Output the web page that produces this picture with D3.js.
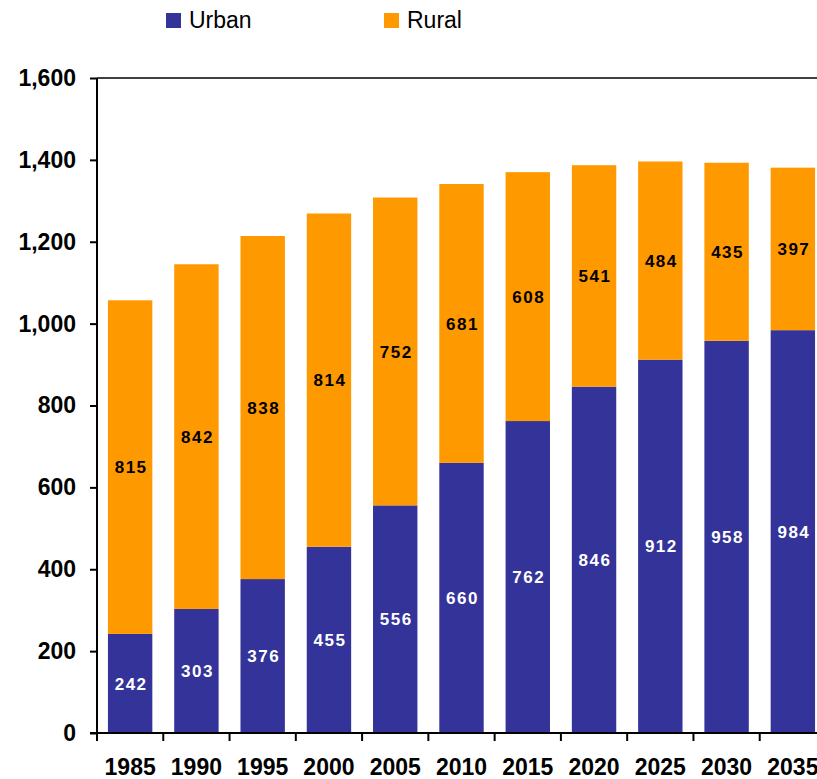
<!DOCTYPE html>
<html>
<head>
<meta charset="utf-8">
<script src="https://cdn.jsdelivr.net/npm/d3@7"></script>
<style>
  body { margin: 0; background: #fff; }
  svg { display: block; font-family: "Liberation Sans", Arial, sans-serif; }
</style>
</head>
<body>
<div id="chart"></div>
<script>
// Data
const years = ['1985', '1990', '1995', '2000', '2005', '2010', '2015', '2020', '2025', '2030', '2035'];
const urban = [242, 303, 376, 455, 556, 660, 762, 846, 912, 958, 984];
const rural = [815, 842, 838, 814, 752, 681, 608, 541, 484, 435, 397];
const yTicks = [0, 200, 400, 600, 800, 1000, 1200, 1400, 1600];

const width = 817, height = 779;
const plotLeft = 97, plotRight = 826, plotTop = 78, plotBottom = 733;

const svg = d3.select('#chart').append('svg')
    .attr('width', width)
    .attr('height', height);

const x = d3.scaleBand()
    .domain(years)
    .range([plotLeft, plotRight])
    .paddingInner(0.33)
    .paddingOuter(0.165);

const y = d3.scaleLinear()
    .domain([0, 1600])
    .range([plotBottom, plotTop]);

const colors = { urban: '#333399', rural: '#FF9900' };

// top border line of plot area
svg.append('line')
    .attr('x1', plotLeft).attr('x2', plotRight)
    .attr('y1', y(1600)).attr('y2', y(1600))
    .attr('stroke', '#000').attr('stroke-width', 1.5);

// Bars
const g = svg.append('g');
years.forEach((yr, i) => {
    g.append('rect')
        .attr('x', x(yr))
        .attr('width', x.bandwidth())
        .attr('y', y(urban[i]))
        .attr('height', y(0) - y(urban[i]))
        .attr('fill', colors.urban);
    g.append('rect')
        .attr('x', x(yr))
        .attr('width', x.bandwidth())
        .attr('y', y(urban[i] + rural[i]))
        .attr('height', y(urban[i]) - y(urban[i] + rural[i]))
        .attr('fill', colors.rural);

    // value labels
    g.append('text')
        .attr('x', x(yr) + x.bandwidth() / 2 + 1)
        .attr('y', (y(0) + y(urban[i])) / 2)
        .attr('dy', '0.36em')
        .attr('text-anchor', 'middle')
        .attr('fill', '#fff')
        .style('font-size', '17px')
        .style('font-weight', 'bold')
        .style('letter-spacing', '1.5px')
        .text(urban[i]);
    g.append('text')
        .attr('x', x(yr) + x.bandwidth() / 2 + 1)
        .attr('y', (y(urban[i]) + y(urban[i] + rural[i])) / 2)
        .attr('dy', '0.36em')
        .attr('text-anchor', 'middle')
        .attr('fill', '#000')
        .style('font-size', '17px')
        .style('font-weight', 'bold')
        .style('letter-spacing', '1.5px')
        .text(rural[i]);
});

// Y axis
const yAxis = svg.append('g')
    .attr('transform', `translate(${plotLeft},0)`)
    .call(d3.axisLeft(y).tickValues(yTicks).tickSize(7).tickPadding(14).tickFormat(d3.format(',')));
yAxis.selectAll('path, line').attr('stroke', '#000').attr('stroke-width', 2);
yAxis.select('.domain').attr('d', `M0,${plotBottom}V${plotTop}`);
yAxis.selectAll('text')
    .attr('fill', '#000')
    .style('font-size', '23px')
    .style('font-weight', 'bold')
    .style('font-family', '"Liberation Sans", Arial, sans-serif');

// X axis: ticks between categories
const xAxis = svg.append('g').attr('transform', `translate(0,${plotBottom})`);
xAxis.append('line')
    .attr('x1', plotLeft - 7).attr('x2', plotRight)
    .attr('stroke', '#000').attr('stroke-width', 2);
const step = x.step();
d3.range(years.length + 1).forEach(k => {
    const tx = plotLeft + k * step;
    xAxis.append('line')
        .attr('x1', tx).attr('x2', tx)
        .attr('y1', 0).attr('y2', 8)
        .attr('stroke', '#000').attr('stroke-width', 2);
});
xAxis.selectAll('text.yr')
    .data(years)
    .enter()
    .append('text')
    .attr('class', 'yr')
    .attr('x', d => x(d) + x.bandwidth() / 2)
    .attr('y', 42)
    .attr('text-anchor', 'middle')
    .attr('fill', '#000')
    .style('font-size', '23px')
    .style('font-weight', 'bold')
    .text(d => d);

// Legend
const legend = [
    { name: 'Urban', color: colors.urban, x: 166 },
    { name: 'Rural', color: colors.rural, x: 384 }
];
const lg = svg.append('g').selectAll('g')
    .data(legend)
    .enter()
    .append('g')
    .attr('transform', d => `translate(${d.x},13)`);
lg.append('rect')
    .attr('width', 15)
    .attr('height', 15)
    .attr('fill', d => d.color);
lg.append('text')
    .attr('x', 23)
    .attr('y', 15)
    .style('font-size', '23px')
    .attr('fill', '#000')
    .text(d => d.name);
</script>
</body>
</html>
